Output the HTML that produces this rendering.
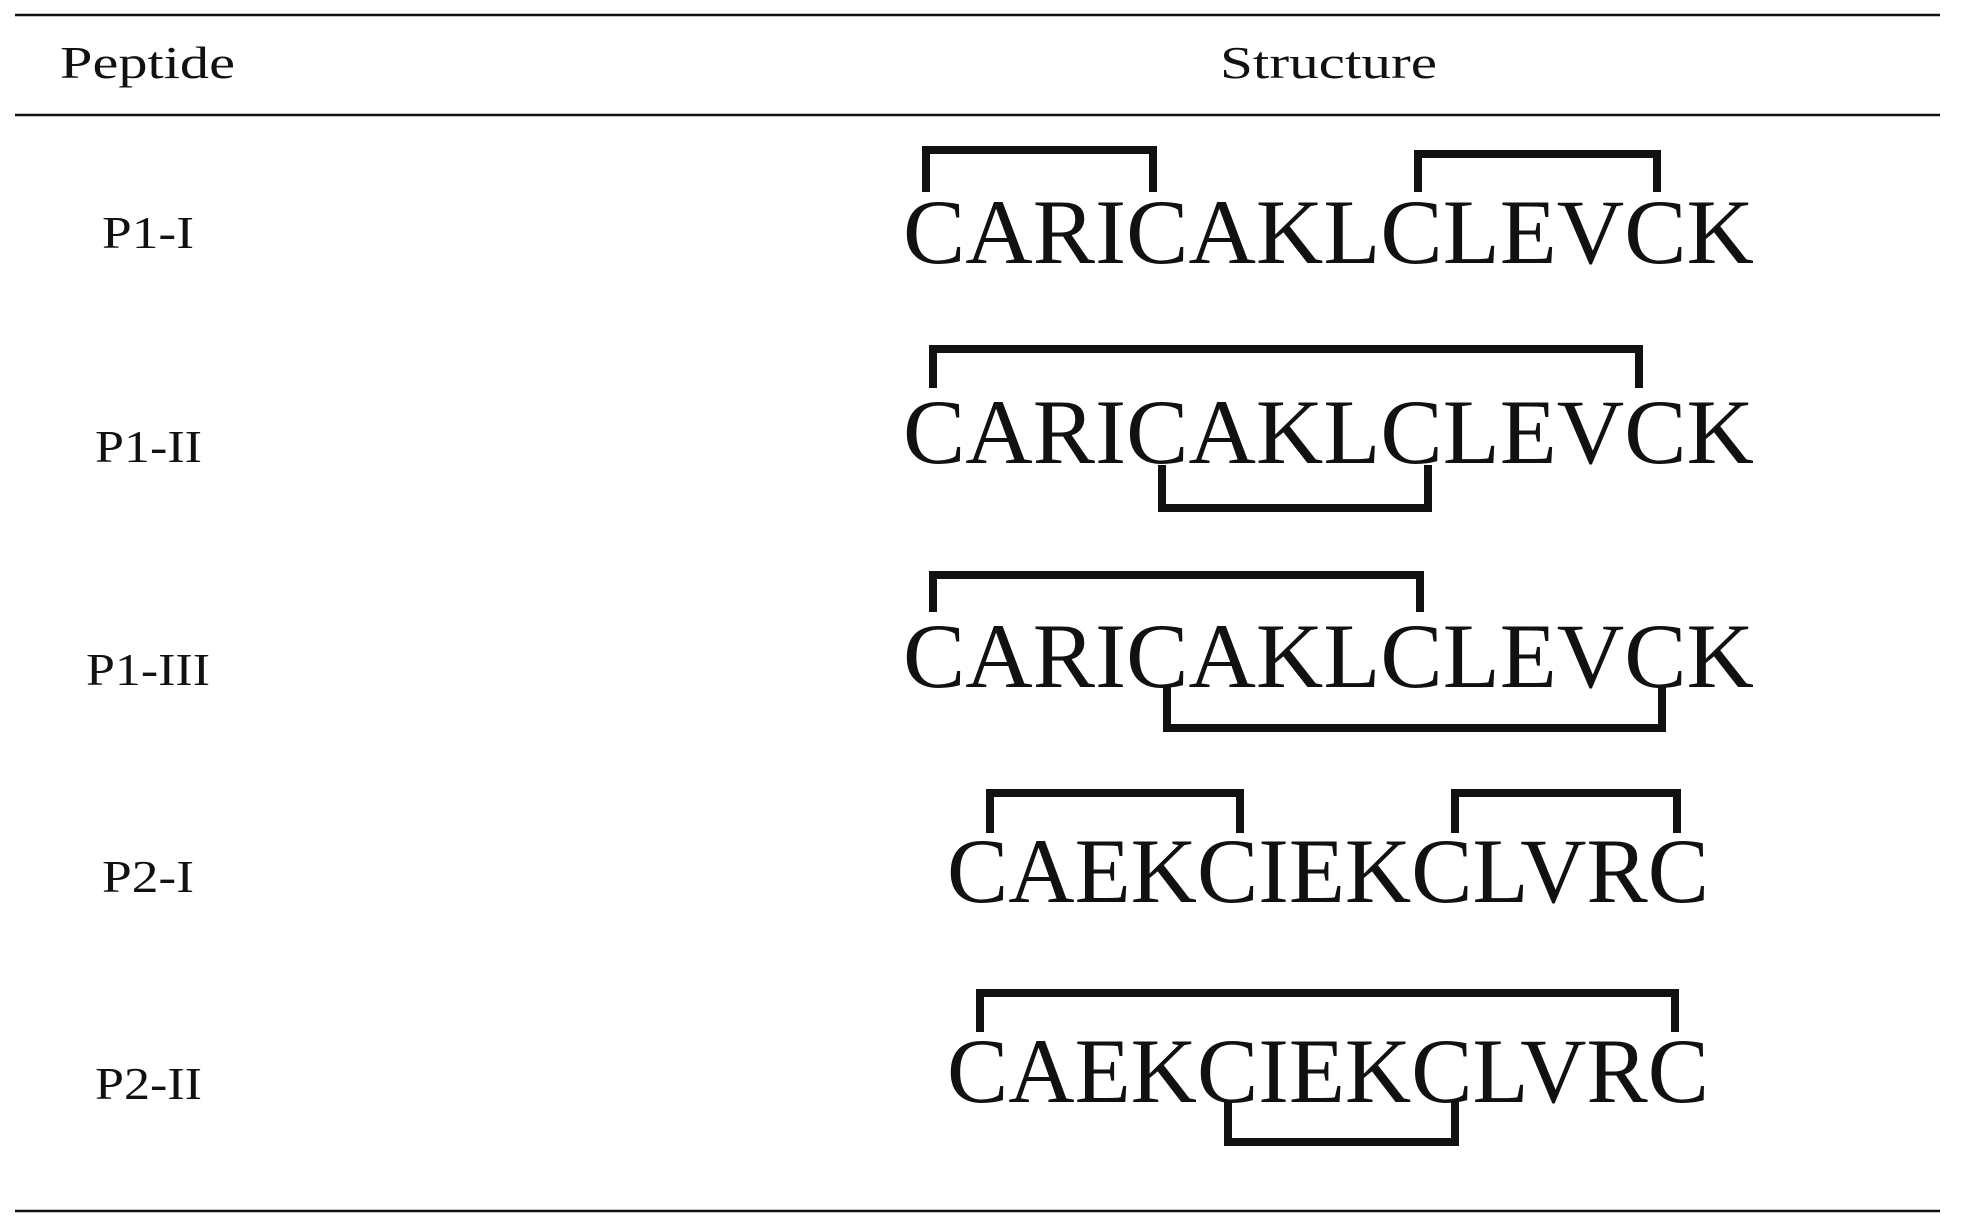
<!DOCTYPE html>
<html><head><meta charset="utf-8"><style>
html,body{margin:0;padding:0;background:#fff;}
svg{display:block;}
</style></head><body>
<svg width="1961" height="1230" viewBox="0 0 1961 1230" xmlns="http://www.w3.org/2000/svg">
<g stroke="#111" stroke-width="2.5">
<line x1="15" y1="15" x2="1940" y2="15"/>
<line x1="15" y1="115" x2="1940" y2="115"/>
<line x1="15" y1="1211" x2="1940" y2="1211"/>
</g>
<g font-family="Liberation Serif, serif" fill="#111" font-size="46">
<text x="60" y="78" textLength="175" lengthAdjust="spacingAndGlyphs">Peptide</text>
<text x="1220" y="78" textLength="217" lengthAdjust="spacingAndGlyphs">Structure</text>
<text x="102" y="248" textLength="92" lengthAdjust="spacingAndGlyphs">P1-I</text>
<text x="95" y="462" textLength="107" lengthAdjust="spacingAndGlyphs">P1-II</text>
<text x="86" y="685" textLength="124" lengthAdjust="spacingAndGlyphs">P1-III</text>
<text x="102" y="892" textLength="92" lengthAdjust="spacingAndGlyphs">P2-I</text>
<text x="95" y="1099" textLength="107" lengthAdjust="spacingAndGlyphs">P2-II</text>
</g>
<g font-family="Liberation Serif, serif" fill="#111" font-size="92">
<text x="903" y="263" textLength="851" lengthAdjust="spacingAndGlyphs">CARICAKLCLEVCK</text>
<text x="903" y="463" textLength="851" lengthAdjust="spacingAndGlyphs">CARICAKLCLEVCK</text>
<text x="903" y="687" textLength="851" lengthAdjust="spacingAndGlyphs">CARICAKLCLEVCK</text>
<text x="947" y="902" textLength="762" lengthAdjust="spacingAndGlyphs">CAEKCIEKCLVRC</text>
<text x="947" y="1102" textLength="762" lengthAdjust="spacingAndGlyphs">CAEKCIEKCLVRC</text>
</g>
<g fill="none" stroke="#111" stroke-width="8">
<polyline points="926,192 926,150 1153,150 1153,192"/>
<polyline points="1418,192 1418,154 1657,154 1657,192"/>
<polyline points="933,388 933,349 1639,349 1639,388"/>
<polyline points="1162,465 1162,508 1428,508 1428,465"/>
<polyline points="933,612 933,575 1420,575 1420,612"/>
<polyline points="1167,685 1167,728 1662,728 1662,685"/>
<polyline points="990,833 990,793 1240,793 1240,833"/>
<polyline points="1455,833 1455,793 1677,793 1677,833"/>
<polyline points="980,1032 980,993 1675,993 1675,1032"/>
<polyline points="1228,1100 1228,1142 1455,1142 1455,1100"/>
</g>
</svg>
</body></html>
